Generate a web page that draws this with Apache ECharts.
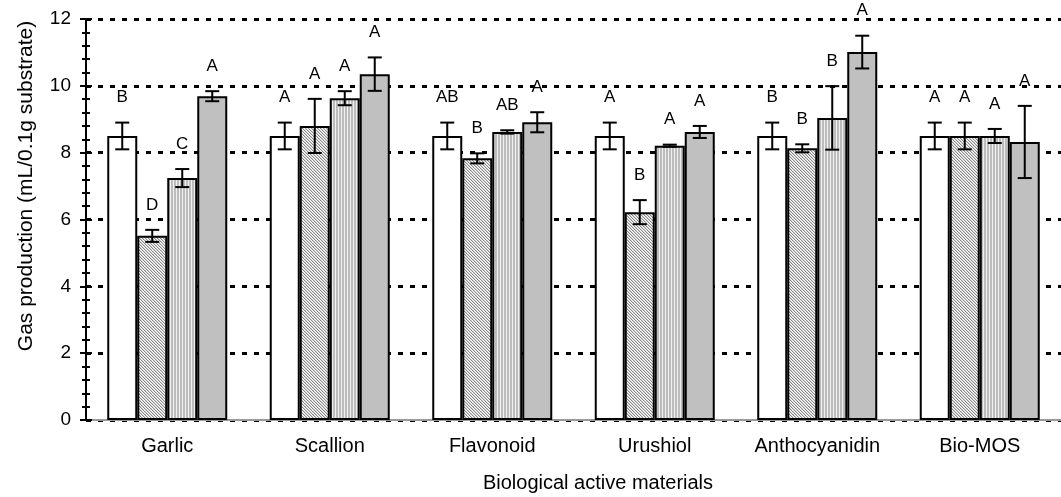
<!DOCTYPE html>
<html>
<head>
<meta charset="utf-8">
<script src="https://cdn.jsdelivr.net/npm/echarts@6/dist/echarts.min.js"></script>
<style>
  html, body { margin: 0; padding: 0; background: #fff; }
  #chart { width: 1061px; height: 497px; }
</style>
</head>
<body>
<div id="chart"></div>
<script>
const categories = ['Garlic', 'Scallion', 'Flavonoid', 'Urushiol', 'Anthocyanidin', 'Bio-MOS']

// bar means and +/- error, one array per treatment
const level1 = [8.5, 8.5, 8.5, 8.5, 8.5, 8.5]
const level1Err = [0.4, 0.4, 0.4, 0.4, 0.4, 0.4]
const level2 = [5.51, 8.8, 7.83, 6.22, 8.13, 8.5]
const level2Err = [0.18, 0.81, 0.15, 0.36, 0.12, 0.4]
const level3 = [7.24, 9.63, 8.62, 8.21, 9.04, 8.5]
const level3Err = [0.27, 0.21, 0.05, 0.03, 0.95, 0.21]
const level4 = [9.69, 10.35, 8.91, 8.62, 11.01, 8.32]
const level4Err = [0.15, 0.5, 0.3, 0.18, 0.49, 1.08]

// significance letters above each bar
const level1Letters = ['B', 'A', 'AB', 'A', 'B', 'A']
const level2Letters = ['D', 'A', 'B', 'B', 'B', 'A']
const level3Letters = ['C', 'A', 'AB', 'A', 'B', 'A']
const level4Letters = ['A', 'A', 'A', 'A', 'A', 'A']

const yTicks = [0, 2, 4, 6, 8, 10, 12]

const FONT = 'Liberation Sans, Arial, sans-serif'
const BAR_W = 30

function makeTile(w, h, paint) {
  const c = document.createElement('canvas')
  c.width = w
  c.height = h
  const ctx = c.getContext('2d')
  for (let y = 0; y < h; y++) {
    for (let x = 0; x < w; x++) {
      ctx.fillStyle = paint(x, y)
      ctx.fillRect(x, y, 1, 1)
    }
  }
  return c
}

const hatchShades = ['#8a8a8a', '#d4d4d4', '#ffffff']
const hatchTile = makeTile(3, 3, (x, y) => hatchShades[((x - y) % 3 + 3) % 3])
const stripeTile = makeTile(3, 1, (x) => (x < 2 ? '#bcbcbc' : '#f0f0f0'))

const fills = [
  '#ffffff',
  { image: hatchTile, repeat: 'repeat' },
  { image: stripeTile, repeat: 'repeat' },
  '#c0c0c0',
]

const groups = [
  { name: 'Level 1', values: level1, errs: level1Err, letters: level1Letters },
  { name: 'Level 2', values: level2, errs: level2Err, letters: level2Letters },
  { name: 'Level 3', values: level3, errs: level3Err, letters: level3Letters },
  { name: 'Level 4', values: level4, errs: level4Err, letters: level4Letters },
]

function errorRenderer(g, k) {
  return function (params, api) {
    const i = params.dataIndex
    const x = api.coord([i, g.values[i]])[0] + (k - 1.5) * BAR_W
    const hi = api.coord([i, g.values[i] + g.errs[i]])[1]
    const lo = api.coord([i, g.values[i] - g.errs[i]])[1]
    const ls = { stroke: '#000', lineWidth: 2 }
    return {
      type: 'group',
      children: [
        { type: 'line', shape: { x1: x, y1: hi, x2: x, y2: lo }, style: ls },
        { type: 'line', shape: { x1: x - 7, y1: hi, x2: x + 7, y2: hi }, style: ls },
        { type: 'line', shape: { x1: x - 7, y1: lo, x2: x + 7, y2: lo }, style: ls },
        {
          type: 'text',
          style: {
            text: g.letters[i],
            x: x,
            y: hi - 25,
            align: 'center',
            verticalAlign: 'middle',
            fontSize: 17,
            fontFamily: FONT,
            fill: '#000',
          },
        },
      ],
    }
  }
}

const series = []
groups.forEach((g, k) => {
  series.push({
    name: g.name,
    type: 'bar',
    data: g.values,
    barWidth: BAR_W,
    barGap: '0%',
    itemStyle: { color: fills[k], borderColor: '#000', borderWidth: 2 },
  })
})
groups.forEach((g, k) => {
  series.push({
    type: 'custom',
    clip: false,
    z: 5,
    data: g.values.map((v, i) => [i, v + g.errs[i]]),
    renderItem: errorRenderer(g, k),
  })
})

const chart = echarts.init(document.getElementById('chart'))
chart.setOption({
  animation: false,
  grid: { left: 86, right: -7, top: 19, bottom: 77 },
  xAxis: [
    {
      type: 'category',
      data: categories,
      axisLine: { lineStyle: { color: '#000', width: 2 } },
      axisTick: { inside: true, length: 6, lineStyle: { color: '#000', width: 2 } },
      axisLabel: { interval: 0, color: '#000', fontSize: 20, fontFamily: FONT, margin: 16 },
    },
    {
      type: 'category',
      data: categories,
      position: 'top',
      axisLine: { lineStyle: { color: '#999', width: 2 } },
      axisTick: { show: false },
      axisLabel: { show: false },
    },
  ],
  yAxis: [
    {
      type: 'value',
      position: 'left',
      min: yTicks[0],
      max: yTicks[yTicks.length - 1],
      interval: 2,
      axisLine: { show: true, lineStyle: { color: '#000', width: 2 } },
      axisTick: { show: true, length: 6, lineStyle: { color: '#000', width: 2 } },
      minorTick: { show: true, splitNumber: 5, length: 4, lineStyle: { color: '#000', width: 2 } },
      axisLabel: { color: '#000', fontSize: 19, fontFamily: FONT, margin: 15 },
      splitLine: { lineStyle: { color: '#000', width: 3, type: [5, 7] } },
    },
    {
      type: 'value',
      position: 'left',
      min: yTicks[0],
      max: yTicks[yTicks.length - 1],
      interval: 2,
      axisLine: { show: false },
      axisTick: { show: true, inside: true, length: 6, lineStyle: { color: '#000', width: 2 } },
      minorTick: { show: true, splitNumber: 5, length: 4, lineStyle: { color: '#000', width: 2 } },
      axisLabel: { show: false },
      splitLine: { show: false },
    },
  ],
  graphic: [
    {
      type: 'text',
      x: 598,
      y: 483,
      style: {
        text: 'Biological active materials',
        align: 'center',
        verticalAlign: 'middle',
        fontSize: 20,
        fontFamily: FONT,
        fill: '#000',
      },
    },
    {
      type: 'text',
      x: 26,
      y: 186,
      rotation: Math.PI / 2,
      style: {
        text: 'Gas production (mL/0.1g substrate)',
        align: 'center',
        verticalAlign: 'middle',
        fontSize: 21,
        fontFamily: FONT,
        fill: '#000',
      },
    },
  ],
  series: series,
})
</script>
</body>
</html>
